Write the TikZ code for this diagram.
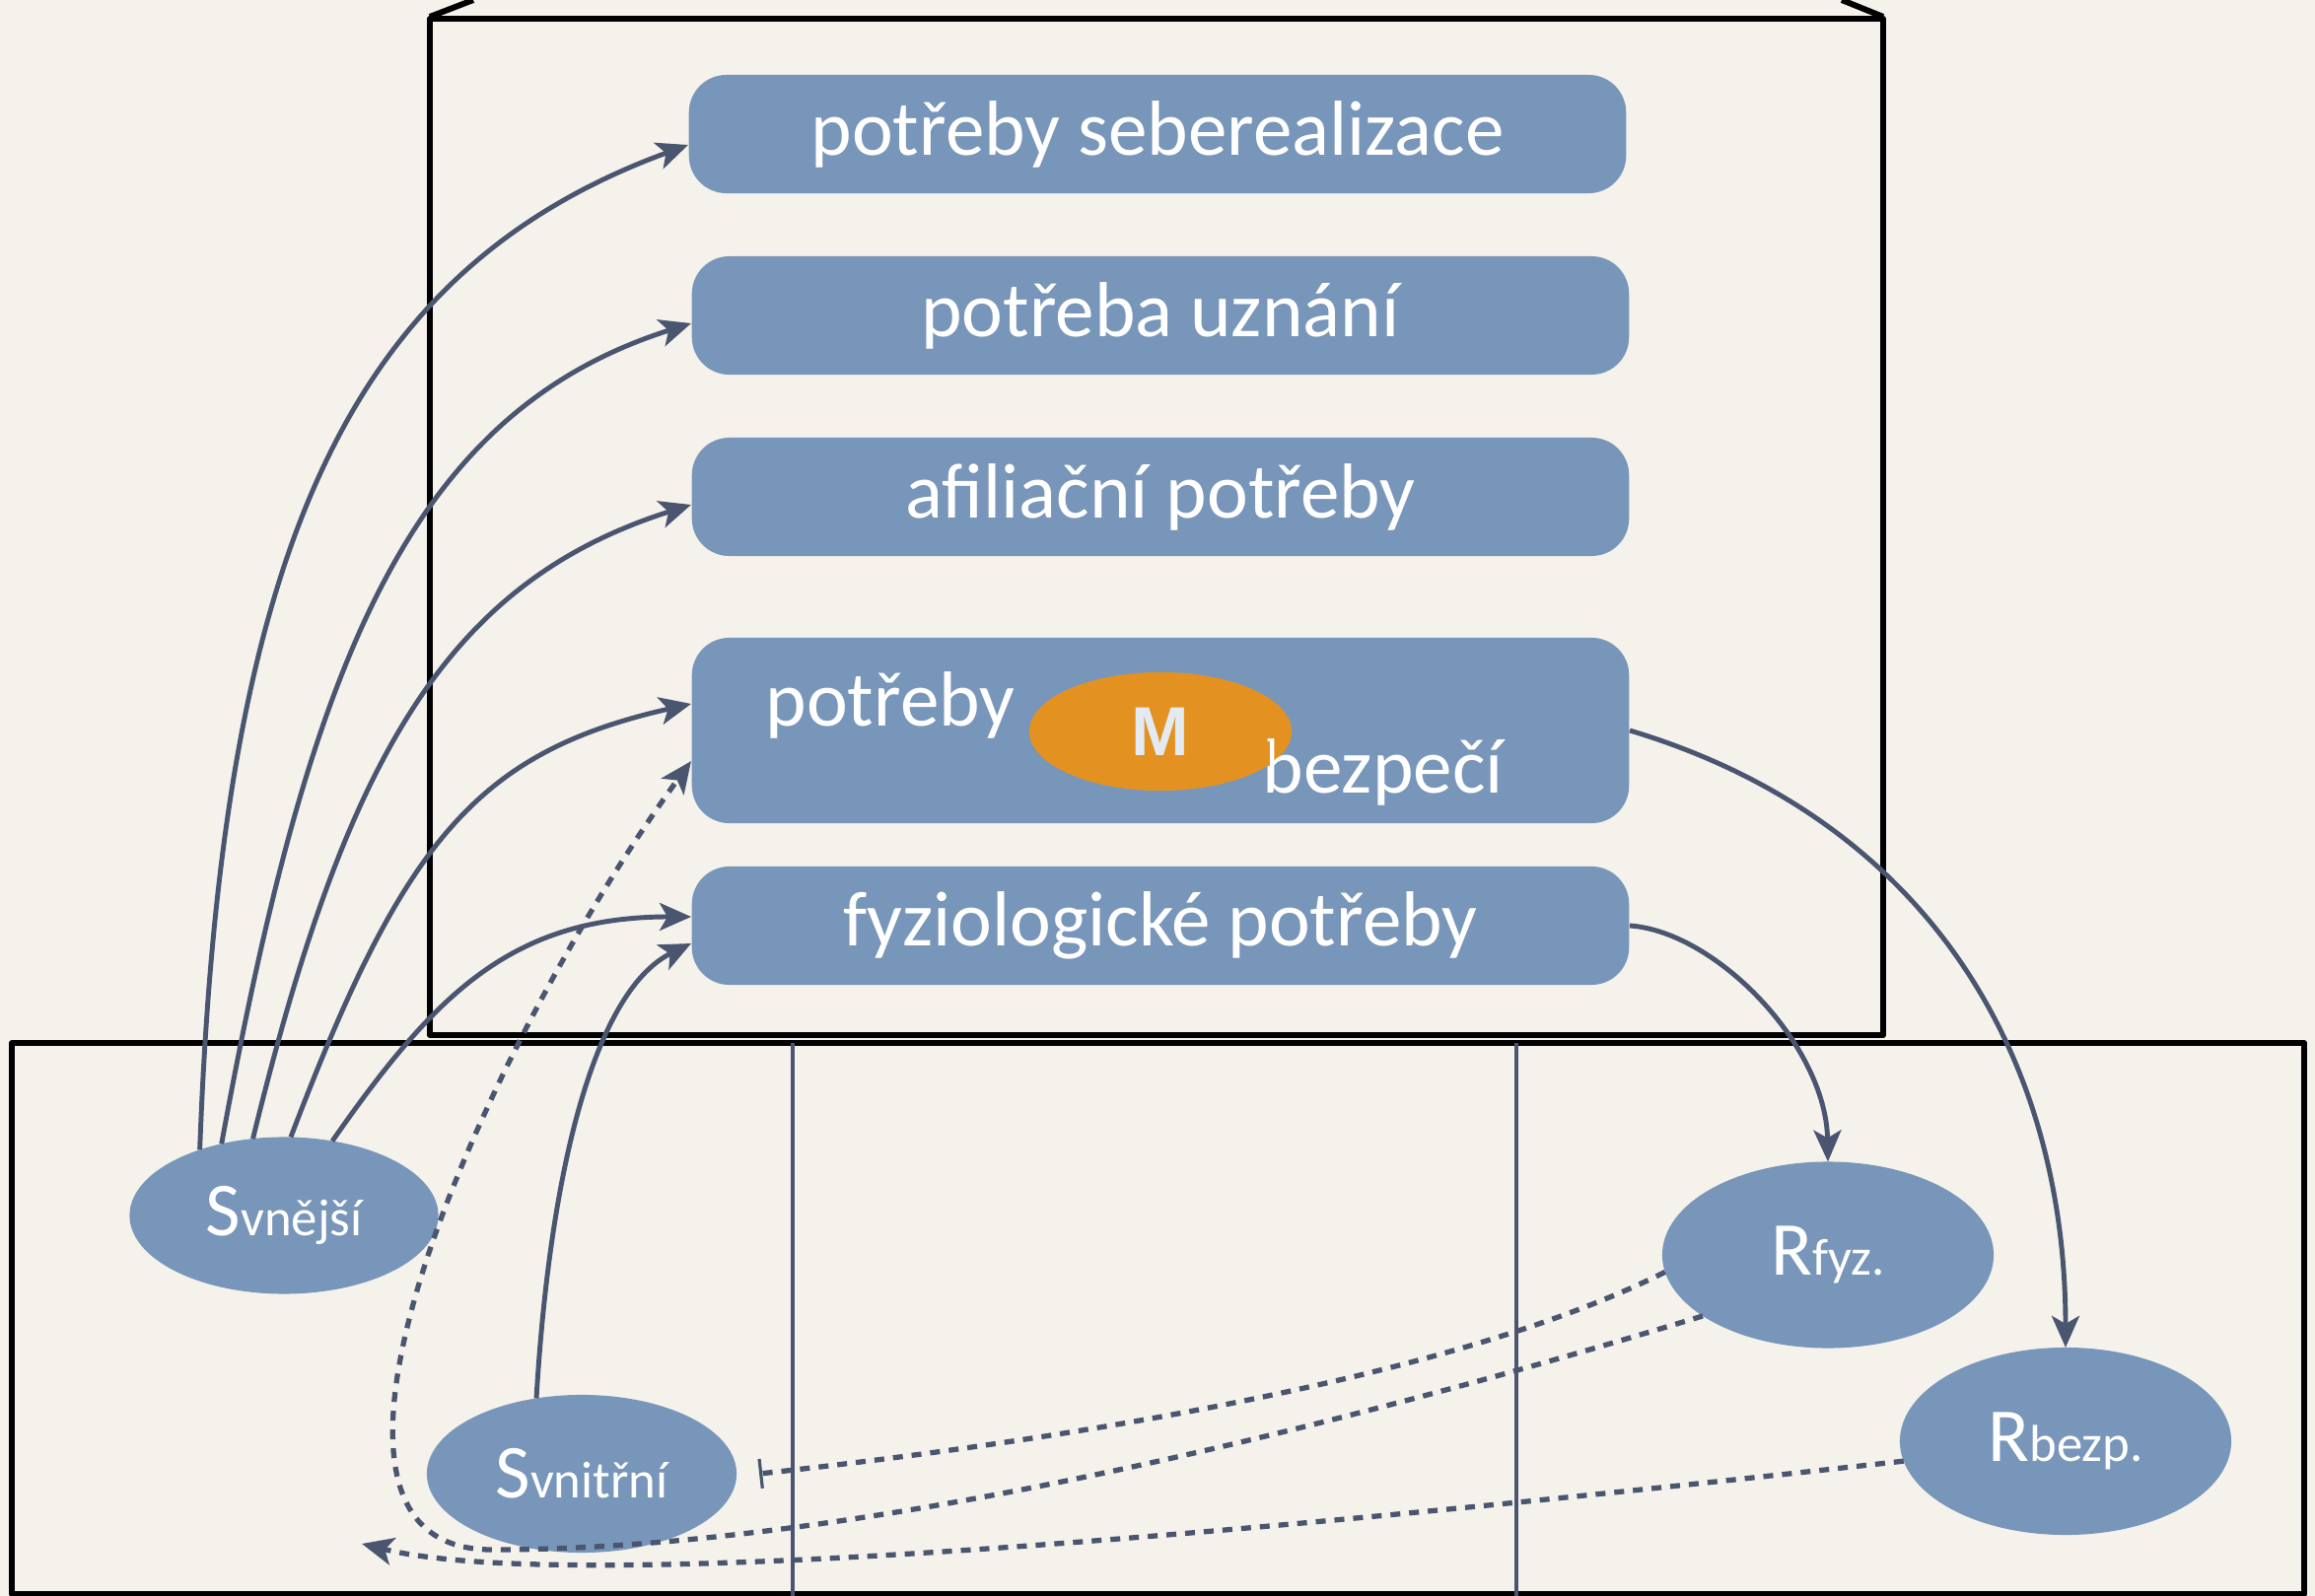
\documentclass[tikz,border=0pt]{standalone}
\usepackage{fontspec}
\setmainfont{Carlito}
\newfontfamily\mfont{Liberation Sans}
\usetikzlibrary{arrows.meta,shapes.geometric}
\definecolor{paper}{HTML}{F5F2EC}
\definecolor{boxblue}{HTML}{7896B9}
\definecolor{slate}{HTML}{4A5670}
\definecolor{morange}{HTML}{E39222}
\definecolor{mtext}{HTML}{E4EAF2}
\newcommand\lowtxt[1]{{\fontsize{15}{18}\selectfont #1}}

\begin{document}
\begin{tikzpicture}[x=0.01cm, y=-0.01cm, line join=round, >={Stealth[length=0.32cm,width=0.28cm,inset=0.08cm]},
  need/.style={fill=boxblue, rounded corners=0.38cm, minimum width=9.5cm, minimum height=1.2cm, inner sep=0pt, text=white, font=\fontsize{22.5}{27}\selectfont},
  stim/.style={ellipse, fill=boxblue, inner sep=0pt, outer sep=0pt, text=white, font=\fontsize{22}{26}\selectfont},
  link/.style={slate, line width=1.4pt, ->},
  feedback/.style={slate, line width=1.5pt, dash pattern=on 0.1cm off 0.09cm},
  wall/.style={black, line width=1.7pt}]
\fill[paper] (0,0) rectangle (2348,1619);
\useasboundingbox (0,0) rectangle (2348,1619);
% house and ground
\draw[wall] (436,19) rectangle (1910,1050);
\draw[wall] (436,17) -- (480,0) (1910,17) -- (1868,0);
\draw[wall] (12,1058) rectangle (2337,1617);
\draw[slate, line width=1.2pt] (804,1058) -- (804,1619) (1538,1058) -- (1538,1619);
% needs
\node[need] (b1) at (1174,136) {potřeby seberealizace};
\node[need] (b2) at (1177,320) {potřeba uznání};
\node[need] (b3) at (1177,504) {afiliační potřeby};
\node[need, minimum height=1.88cm] (b4) at (1177,741) {};
\node[need] (b5) at (1177,939) {fyziologické potřeby};
\node[ellipse, fill=morange, minimum width=2.66cm, minimum height=1.2cm, inner sep=0pt, text=mtext, font=\mfont\bfseries\fontsize{20}{24}\selectfont] (m) at (1177,742) {M};
\node[anchor=base west, inner sep=0pt, text=white, font=\fontsize{22.5}{27}\selectfont] (t4a) at (776,737) {potřeby};
\node[anchor=base west, inner sep=0pt, text=white, font=\fontsize{22.5}{27}\selectfont] (t4b) at (1280,805) {bezpečí};
\fill[morange] (1284,752) rectangle (1288,777);
% stimuli and reactions
\node[stim, minimum width=3.13cm, minimum height=1.59cm] (sv) at (288,1233) {S\lowtxt{vnější}};
\node[stim, minimum width=3.14cm, minimum height=1.6cm] (sn) at (590,1495) {S\lowtxt{vnitřní}};
\node[stim, minimum width=3.36cm, minimum height=1.89cm] (rf) at (1854,1273) {R\lowtxt{fyz.}};
\node[stim, minimum width=3.36cm, minimum height=1.9cm] (rb) at (2095,1462) {R\lowtxt{bezp.}};
\coordinate (fb) at (367,1566);
% connectors
\draw[link] (sv.142) .. controls (225,560) and (351,274) .. ([yshift=-0.11cm]b1.west);
\draw[link] (sv.131) .. controls (313,677) and (413,419) .. ([yshift=-0.08cm]b2.west);
\draw[link] (sv.112) .. controls (350,773) and (451,591) .. ([yshift=-0.08cm]b3.west);
\draw[link] (sv.85) .. controls (409,853) and (484,763) .. ([yshift=0.27cm]b4.west);
\draw[link] (sv.57) .. controls (440,1010) and (518,930) .. ([yshift=0.09cm]b5.west);
\draw[link] (sn.121) .. controls (559,1166) and (609,1002) .. ([yshift=-0.18cm]b5.west);
\draw[link] (b5.east) .. controls (1740,945) and (1852,1060) .. (rf.north);
\draw[link] (b4.east) .. controls (1950,830) and (2095,1065) .. (rb.north);
\draw[feedback, -{Bar[width=0.3cm,line width=0.9pt]}] (rf.186) .. controls (1480,1395) and (1098,1459) .. ([xshift=0.23cm]sn.east);
\draw[feedback, ->] (rf.206) .. controls (1434,1424) and (900,1572) .. (500,1572) .. controls (260,1574) and (495,1055) .. ([yshift=-0.31cm]b4.west);
\draw[feedback, ->] (rb.187) .. controls (1500,1530) and (610,1626) .. (fb);
\end{tikzpicture}
\end{document}
